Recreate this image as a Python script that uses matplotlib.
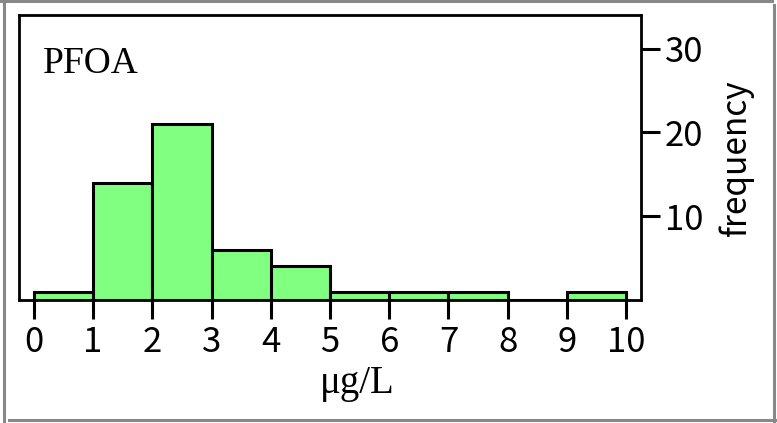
"""PFOA concentration histogram (frequency per 1 ug/L bin)."""

import matplotlib
matplotlib.use("Agg")
import matplotlib.pyplot as plt
from matplotlib.lines import Line2D

# bin edges (ug/L) and counts per bin
bin_edges = [0, 1, 2, 3, 4, 5, 6, 7, 8, 9, 10]
counts = [1, 14, 21, 6, 4, 1, 1, 1, 0, 1]
x_ticks = [0, 1, 2, 3, 4, 5, 6, 7, 8, 9, 10]
y_ticks = [10, 20, 30]

W, H, DPI = 777, 423, 100
fig = plt.figure(figsize=(W / DPI, H / DPI), dpi=DPI)

# axes box in pixels: left 19, right 641, top 15, bottom 300
ax = fig.add_axes([19 / W, 1 - 300 / H, (641 - 19) / W, (300 - 15) / H])

lefts = bin_edges[:-1]
widths = [b - a for a, b in zip(bin_edges[:-1], bin_edges[1:])]
ax.bar(lefts, counts, width=widths, align="edge", color="#80ff80",
       edgecolor="black", linewidth=2.2)

ax.set_xlim(-0.25, 10.25)
ax.set_ylim(0, 34)

for s in ax.spines.values():
    s.set_linewidth(2.0)

ax.set_xticks(x_ticks)
ax.set_yticks(y_ticks)
ax.yaxis.tick_right()
ax.yaxis.set_label_position("right")

tick_font = ["Noto Sans CJK JP", "DejaVu Sans"]
ax.tick_params(axis="x", direction="out", length=14, width=2.2, pad=4)
ax.tick_params(axis="y", direction="out", length=14, width=2.2, pad=3)
for lab in ax.get_xticklabels() + ax.get_yticklabels():
    lab.set_fontfamily(tick_font)
    lab.set_fontsize(25)

ax.set_ylabel("frequency", fontsize=24, family=tick_font, labelpad=11)

fig.text(357 / W, 1 - 393 / H, "\u03bcg/L", fontsize=28,
         family="Liberation Serif", ha="center", va="baseline")
fig.text(43 / W, 1 - 73 / H, "PFOA", fontsize=27,
         family="Liberation Serif", ha="left", va="baseline")

# grey outer frame
grey = "#888888"
frame = [
    ([0, 772], [1, 1]),
    ([3.5, 3.5], [0, 421]),
    ([773.5, 773.5], [5, 421]),
    ([9, 775], [419.5, 419.5]),
]
for xs, ys in frame:
    fig.add_artist(Line2D([x / W for x in xs], [1 - y / H for y in ys],
                          transform=fig.transFigure, color=grey, linewidth=2.2))

fig.savefig("out.png", dpi=DPI)
